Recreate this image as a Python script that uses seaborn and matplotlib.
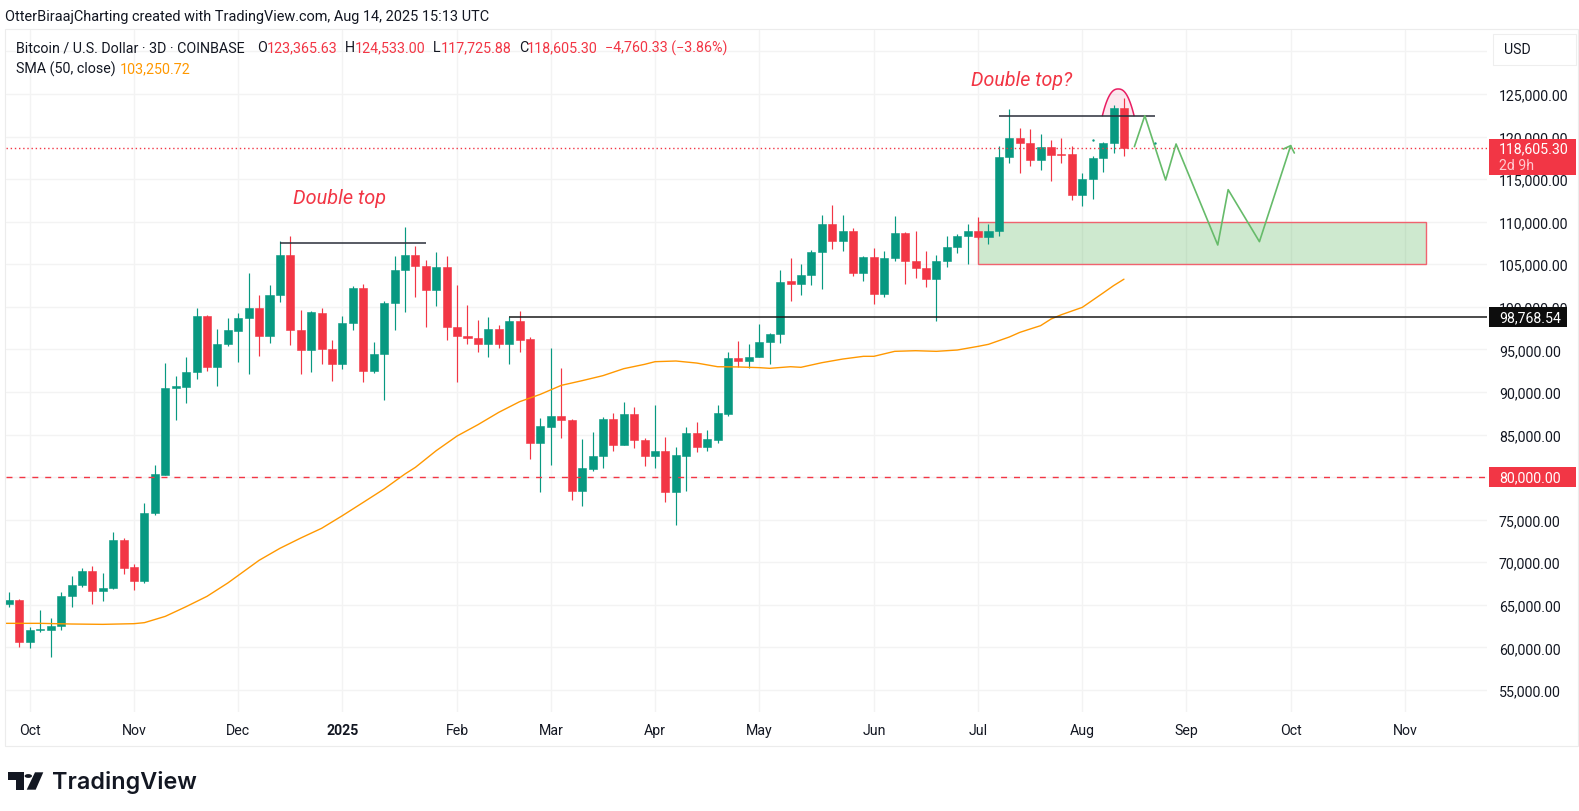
import numpy as np
import matplotlib
matplotlib.use("Agg")
import matplotlib.pyplot as plt
from matplotlib.patches import Rectangle, Polygon, Circle
import seaborn as sns

# ---------- data ----------
opens = [65100,65570,60600,62050,62080,62480,66000,67330,68980,66590,66980,72660,69410,67760,75790,80290,90510,90550,92390,98960,
         92900,95600,97200,98650,99830,96620,101350,106090,97280,94970,99320,95050,93290,98100,102210,92500,94420,100450,104330,106090,
         104840,101980,104680,97600,96620,96380,95680,97440,95680,98340,96190,84050,85930,87180,86670,78410,81000,82480,86830,83780,
         87420,84320,82480,83110,78290,82520,85150,83580,84400,87450,93990,93680,94110,95830,96810,103000,102650,103740,106400,109690,
         107730,108910,104020,105900,101510,105740,108670,105390,104520,103230,105390,107000,108360,108870,108240,108870,117560,119830,119200,117290,
         118730,117990,117950,113180,114980,117520,119245,123366]
closes = [65570,60600,62010,62160,62480,66000,67330,68980,66590,66940,72660,69370,67760,75830,80410,90470,90665,92390,98960,92900,
          95600,97240,98650,99830,96620,101350,106090,97280,94970,99360,95050,93290,98060,102210,92500,94420,100450,104330,106090,104840,
          101980,104680,97600,96620,96380,95680,97440,95680,98340,96150,84050,85970,87180,86670,78410,81070,82480,86870,83780,87420,
          84320,82480,83110,78290,82600,85150,83580,84440,87490,93990,93680,94110,95830,96810,102960,102650,103740,106440,109690,107730,
          108910,104020,105900,101510,105740,108670,105425,104560,103230,105390,107000,108360,108870,108240,108870,117560,119830,119200,117290,118730,
          117870,117870,113180,114980,117520,119245,123316,118605]
highs = [66470,65650,62440,64430,63420,66470,68350,69330,69530,68700,73520,72890,69800,76920,81420,93400,91920,94070,99830,99040,
         97400,98650,99280,103980,101390,102530,107770,108360,99590,99480,99830,96110,98960,102490,102680,95870,100650,105930,109340,107110,
         105460,106400,106010,102570,100220,98460,98810,97910,98770,99470,96420,86910,95130,92820,86830,84480,85260,87020,87500,88830,
         88240,84560,88510,84720,83500,85850,86440,85500,88510,94660,95950,95640,97990,96890,104330,105700,104990,106680,110790,111960,
         110790,109260,105970,106870,106520,110630,108750,108910,106520,106090,108280,108560,109770,110550,109770,118850,123200,120970,120850,120300,
         119560,119830,118850,115720,117680,119320,123700,124533]
lows = [64790,60010,59890,61770,58910,62080,64790,67140,65100,65490,66820,68660,66780,67530,75590,80290,86710,88710,91530,92500,
        90740,95440,93560,92070,94270,95750,100610,95560,92110,92390,93290,91250,92740,97320,91210,92230,89060,97320,99430,101160,
        97670,100140,96150,91210,95640,94740,94070,95210,93330,94740,82130,78220,81430,84600,77360,76570,80760,81070,83070,83780,
        83460,81270,81110,77040,74420,78410,83000,83110,83970,87140,92900,92820,94110,93290,95790,100730,101390,102570,102100,106800,
        106600,103620,103080,100370,101160,105390,102720,103350,102330,98300,104680,106360,105030,108000,107420,108360,116900,115680,116500,116110,
        114820,116900,112590,111890,112630,115800,118030,117726]

sma_idx = [-1,0,3,6,9,12,13,15,17,19,21,24,26,28,30,32,34,36,38,39,41,43,45,47,49,51,53,55,57,59,61,62,64,66,68,70,72,73,75,76,78,80,82,83,85,87,89,91,93,94,95,96,97,98,99,100,101,103,105,106,107]
sma_vals = [62830,62830,62830,62750,62710,62790,62910,63650,64790,66000,67570,70230,71640,72850,73990,75480,77040,78610,80370,81150,83110,84830,86160,87610,88860,89730,90780,91330,91920,92740,93250,93560,93640,93400,92970,92940,92860,92780,92970,92900,93440,93870,94190,94190,94776,94850,94776,94930,95360,95600,96030,96460,97000,97400,97790,98570,99080,99940,101630,102490,103250]

zig_idx = [108,109,111,112,116,117,120,123]
zig_vals = [118815,122455,114900,119130,107265,113764,107657,118932]
tail_idx = [122.3,123,123.35]
tail_vals = [118540,118932,118070]
dot_idx = [104,110]
dot_vals = [119630,119245]

level_left = (26, 40, 107535)
level_right = (95, 110, 122450)
level_support = (48, 98768.54)
zone = (93, 136, 105000, 110000)
arc_span = (104.93, 107.97, 122450, 125590)

ytick_vals = list(range(55000, 135000, 5000))
ytick_text = ["55,000.00","60,000.00","65,000.00","70,000.00","75,000.00","80,000.00","85,000.00","90,000.00","95,000.00",
              "100,000.00","105,000.00","110,000.00","115,000.00","120,000.00","125,000.00",""]
xtick_idx = [2,12,22,32,43,52,62,72,83,93,103,113,123,134]
xtick_text = ["Oct","Nov","Dec","2025","Feb","Mar","Apr","May","Jun","Jul","Aug","Sep","Oct","Nov"]

# ---------- style ----------
RED, GREEN, INK, GRID = "#F23645", "#089981", "#131722", "#F3F3F3"
sns.set_style("white")
plt.rcParams["font.family"] = ["Roboto", "DejaVu Sans"]
plt.rcParams["lines.scale_dashes"] = False
W, H = 1579, 812
fig = plt.figure(figsize=(W/100, H/100), dpi=100, facecolor="white")
L, R, T, B = 5.5, 1487, 30.5, 713
ax = fig.add_axes([L/W, 1-B/H, (R-L)/W, (B-T)/H])
ax.set_xlim(-0.336, 141.84)
ax.set_ylim(52416, 132575)
sns.despine(ax=ax, left=True, bottom=True, right=True, top=True)
ax.set_axisbelow(True)
ax.grid(True, color=GRID, lw=1.0)
ax.yaxis.tick_right()
ax.set_yticks(ytick_vals, ytick_text)
ax.set_xticks(xtick_idx, xtick_text)
ax.tick_params(axis="y", length=0, pad=8.6, labelsize=10.2, labelcolor=INK)
ax.tick_params(axis="x", length=0, pad=8.2, labelsize=10.2, labelcolor=INK)
ax.get_xticklabels()[3].set_fontweight("bold")

px = lambda x, y: (x/W, 1-y/H)

# zone
zx0, zx1, zb, zt = zone
ax.add_patch(Rectangle((zx0, zb), zx1-zx0, zt-zb, facecolor=("#4CAF50", 0.27), edgecolor="#F0636F", lw=1.0, zorder=1.5))

# candles
idx = np.arange(len(opens))
o, c, hi, lo = map(np.array, (opens, closes, highs, lows))
cols = np.where(c >= o, GREEN, RED)
ax.vlines(idx, lo, hi, colors=cols, lw=0.85, zorder=2)
ax.bar(idx, np.abs(c-o), bottom=np.minimum(o, c), width=0.77, color=cols, edgecolor=cols, lw=0.4, zorder=2.1)

# SMA
sns.lineplot(x=sma_idx, y=sma_vals, ax=ax, color="#FF9800", lw=1.0, estimator=None, sort=False, zorder=2.5)

# levels
ax.hlines(level_left[2], level_left[0], level_left[1], color="#2A2E39", lw=1.1, zorder=3)
ax.hlines(level_right[2], level_right[0], level_right[1], color="#2A2E39", lw=1.1, zorder=3)
ax.hlines(level_support[1], level_support[0], 141.84, color="#1A1A1A", lw=1.1, zorder=3)
ax.axhline(80000, color=RED, lw=1.0, ls=(0, (4.3, 5.0)), zorder=3)
ax.axhline(closes[-1], color=RED, lw=1.0, ls=(0, (1.0, 2.0)), zorder=3)

# arc
a0, a1, ab, at = arc_span
t = np.linspace(-1, 1, 60)
arc_x = (a0+a1)/2 + (a1-a0)/2*t
arc_y = ab + (at-ab)*(1-np.abs(t)**2.4)
ax.fill(arc_x, arc_y, facecolor=("#E91E63", 0.10), edgecolor="none", zorder=1.8)
ax.plot(arc_x, arc_y, color="#E91E63", lw=1.1, zorder=2.05)

# projected path
sns.lineplot(x=zig_idx, y=zig_vals, ax=ax, color="#66BB6A", lw=1.2, estimator=None, sort=False, zorder=3.2)
sns.lineplot(x=tail_idx, y=tail_vals, ax=ax, color="#66BB6A", lw=1.2, estimator=None, sort=False, zorder=3.2)
ax.scatter(dot_idx, dot_vals, s=3, color=GREEN, zorder=3.3, linewidths=0)
ax.set_xlabel(""); ax.set_ylabel("")

# annotations
fig.text(*px(293, 198), "Double top", color=RED, style="italic", fontsize=14.3, va="center", ha="left")
fig.text(*px(971, 80), "Double top?", color=RED, style="italic", fontsize=14.1, va="center", ha="left")

# header
fig.text(*px(5, 17.5), "OtterBiraajCharting created with TradingView.com, Aug 14, 2025 15:13 UTC", color=INK, fontsize=10.42, va="center")
row1 = [(15.5,"Bitcoin / U.S. Dollar · 3D · COINBASE",INK),(257,"O",INK),(267,"123,365.63",RED),(345,"H",INK),(355,"124,533.00",RED),
        (433,"L",INK),(441,"117,725.88",RED),(519,"C",INK),(527,"118,605.30",RED),(605,"−4,760.33 (−3.86%)",RED)]
for x, s, col in row1:
    fig.text(*px(x, 48.5), s, color=col, fontsize=10.3, va="center")
fig.text(*px(15.5, 69), "SMA (50, close)", color=INK, fontsize=10.3, va="center")
fig.text(*px(120, 69), "103,250.72", color="#FF9800", fontsize=10.3, va="center")

# right-hand chrome
def box(x0, y0, x1, y1, fc, ec=None, z=5, lw=0):
    fig.add_artist(Rectangle(px(x0, y1), (x1-x0)/W, (y1-y0)/H, transform=fig.transFigure, facecolor=fc, edgecolor=ec or fc, lw=lw, zorder=z))
box(1489, 140, 1575.7, 176, RED)
fig.text(*px(1499, 149), "118,605.30", color="white", fontsize=10.2, va="center", zorder=6)
fig.text(*px(1499, 166), "2d 9h", color="#FFC9CF", fontsize=10.2, va="center", zorder=6)
box(1489, 308, 1566.7, 328, "#0D0D0D")
fig.text(*px(1499, 318), "98,768.54", color="white", fontsize=10.2, va="center", zorder=6)
box(1489, 468, 1575.7, 488, RED)
fig.text(*px(1499, 478), "80,000.00", color="white", fontsize=10.2, va="center", zorder=6)
box(1492.7, 35, 1575.7, 66, "white", "#EEEEEE", lw=0.8)
fig.text(*px(1504, 50.5), "USD", color=INK, fontsize=10.2, va="center", zorder=6)
box(5.2, 30.4, 1578, 747, "none", "#ECECEC", z=1, lw=0.8)

# logo
def poly(pts):
    fig.add_artist(Polygon([px(x, y) for x, y in pts], closed=True, transform=fig.transFigure, facecolor="#131722", edgecolor="none", zorder=6))
poly([(8,773.3),(24,773.3),(24,790.7),(16,790.7),(16,781.3),(8,781.3)])
poly([(35,773.3),(43.3,773.3),(35.7,790.7),(26.7,790.7)])
fig.add_artist(Circle((28.3/W, 1-777/H), 3.7/W, transform=fig.transFigure, facecolor="#131722", edgecolor="none", zorder=6))
fig.text(*px(52, 782.5), "TradingView", color="#131722", fontfamily="Inter", fontweight="semibold", fontsize=16.8, va="center")

fig.savefig("out.png", dpi=100, facecolor="white")
